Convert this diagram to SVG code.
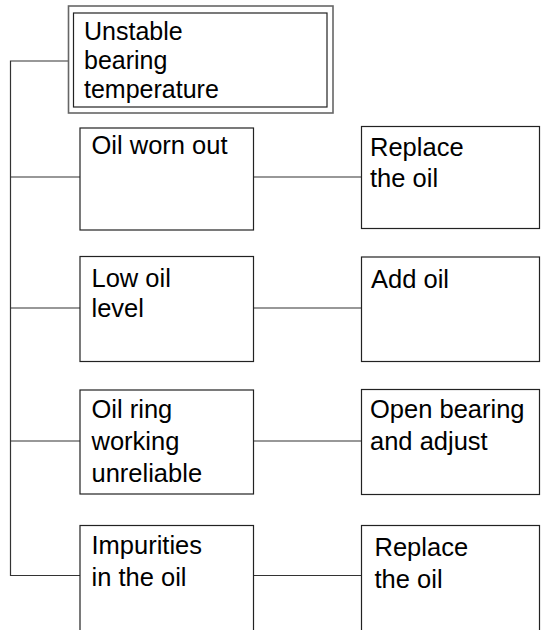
<svg xmlns="http://www.w3.org/2000/svg" width="541" height="630" viewBox="0 0 541 630">
<style>
.box{fill:#fff;stroke:#222;stroke-width:1.2}
.outer{fill:#fff;stroke:#666;stroke-width:1.6}
.inner{fill:none;stroke:#222;stroke-width:1.2}
.t{font-family:"Liberation Sans",Arial,sans-serif;font-size:25.5px;fill:#000}
.h{font-size:25px}
.c{stroke:#333;stroke-width:1.2;fill:none}
</style>
<rect width="541" height="630" fill="#fff"/>
<g id="connectors">
<polyline class="c" points="68.5,61 10.5,61 10.5,575.5 80,575.5"/>
<line class="c" x1="10.5" y1="177" x2="80" y2="177"/>
<line class="c" x1="10.5" y1="308" x2="80" y2="308"/>
<line class="c" x1="10.5" y1="441" x2="80" y2="441"/>
<line class="c" x1="253.5" y1="177" x2="361.5" y2="177"/>
<line class="c" x1="253.5" y1="308" x2="361.5" y2="308"/>
<line class="c" x1="253.5" y1="441" x2="361.5" y2="441"/>
<line class="c" x1="253.5" y1="575.5" x2="361.5" y2="575.5"/>
</g>
<g id="title">
<rect class="outer" x="68.5" y="6" width="264.5" height="107"/>
<rect class="inner" x="73.5" y="13" width="253.5" height="94"/>
<text class="t h" x="84" y="40">Unstable</text>
<text class="t h" x="84" y="69">bearing</text>
<text class="t h" x="84" y="98">temperature</text>
</g>
<g id="cause1">
<rect class="box" x="80" y="128" width="173.5" height="102"/>
<text class="t" x="91.5" y="154">Oil worn out</text>
</g>
<g id="cause2">
<rect class="box" x="80" y="256.5" width="173.5" height="105"/>
<text class="t" x="91.5" y="287">Low oil</text>
<text class="t" x="91.5" y="317">level</text>
</g>
<g id="cause3">
<rect class="box" x="80" y="390" width="173.5" height="104"/>
<text class="t" x="91.5" y="418">Oil ring</text>
<text class="t" x="91.5" y="450">working</text>
<text class="t" x="91.5" y="482">unreliable</text>
</g>
<g id="cause4">
<rect class="box" x="80" y="525.5" width="173.5" height="110"/>
<text class="t" x="91.5" y="554">Impurities</text>
<text class="t" x="91.5" y="586">in the oil</text>
</g>
<g id="fix1">
<rect class="box" x="361.5" y="126.5" width="178" height="102"/>
<text class="t" x="370" y="156">Replace</text>
<text class="t" x="370" y="187">the oil</text>
</g>
<g id="fix2">
<rect class="box" x="361.5" y="257" width="178" height="104.5"/>
<text class="t" x="371" y="288">Add oil</text>
</g>
<g id="fix3">
<rect class="box" x="361.5" y="389.5" width="178" height="105"/>
<text class="t" x="370" y="418">Open bearing</text>
<text class="t" x="370" y="450">and adjust</text>
</g>
<g id="fix4">
<rect class="box" x="361.5" y="525.5" width="178" height="110"/>
<text class="t" x="374.5" y="556">Replace</text>
<text class="t" x="374.5" y="588">the oil</text>
</g>
</svg>
